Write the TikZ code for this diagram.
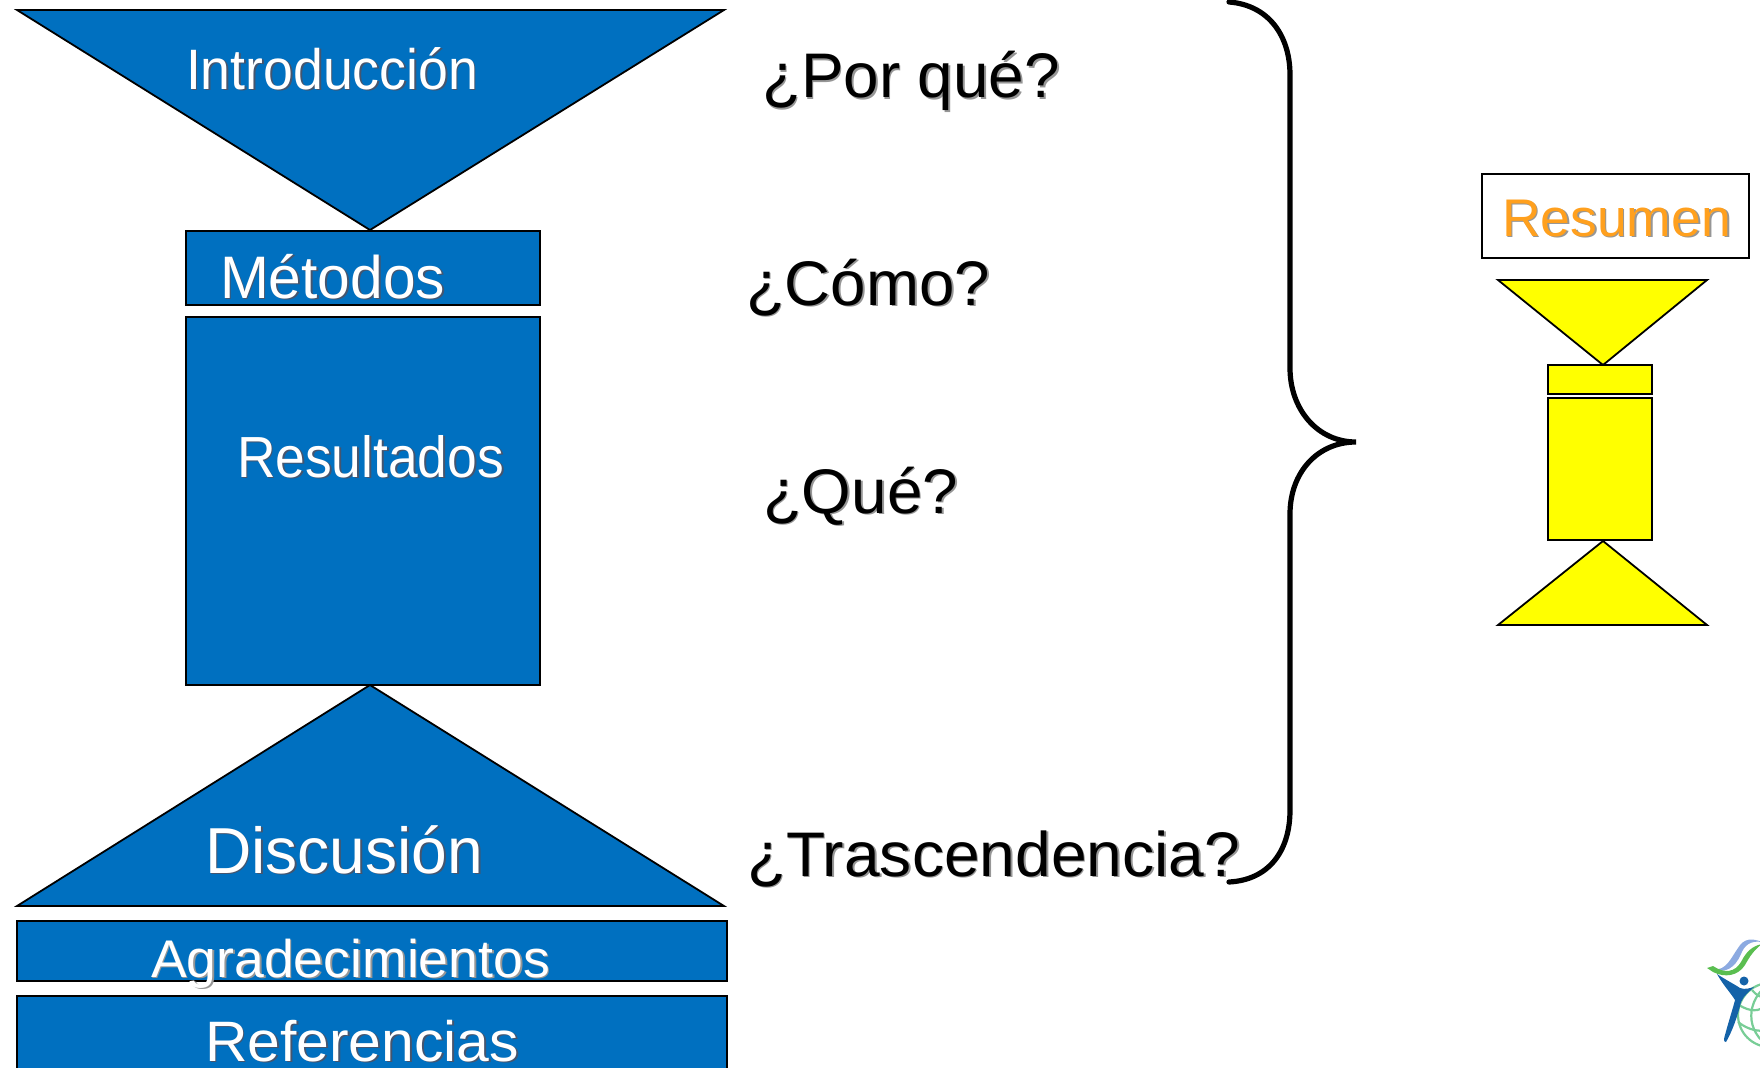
\documentclass[tikz,border=0pt]{standalone}
\usepackage{fontspec}
\usepackage{graphicx}
\setmainfont{Liberation Sans}
\definecolor{panelblue}{RGB}{0,112,192}
\definecolor{panelyellow}{RGB}{255,255,0}
\definecolor{resorange}{RGB}{255,160,30}
\definecolor{softshadow}{RGB}{150,150,150}
\definecolor{darkshadow}{RGB}{70,85,110}
\definecolor{logoblue}{RGB}{20,98,168}
\definecolor{logogreen}{RGB}{90,190,80}
\definecolor{logopale}{RGB}{140,170,225}
\definecolor{logoglobe}{RGB}{120,205,150}
\tikzset{
  bluepanel/.style={draw=black,fill=panelblue,line width=1.8pt,line join=miter},
  yellowpanel/.style={draw=black,fill=panelyellow,line width=1.8pt,line join=miter},
  labeltext/.style={anchor=base west,inner sep=0pt,outer sep=0pt},
  globeline/.style={draw=logoglobe,line width=2.2pt}
}
% name, x, baseline y, width, font size, colour, shadow colour, text
\newcommand{\shadowlabel}[8]{%
  \node[labeltext,text=#7] (#1-shadow) at (#2+1.8,#3+1.8) {\fontsize{#5}{#5}\selectfont\resizebox{#4pt}{\height}{#8}};
  \node[labeltext,text=#6] (#1) at (#2,#3) {\fontsize{#5}{#5}\selectfont\resizebox{#4pt}{\height}{#8}};
}
\begin{document}
\begin{tikzpicture}[x=1pt,y=-1pt]
\useasboundingbox (0,0) rectangle (1760,1067.5);
\clip (0,0) rectangle (1760,1067.5);
% blue column
\draw[bluepanel] (17,10) -- (724,10) -- (370,230) -- cycle;
\draw[bluepanel] (186,231) rectangle (540,305);
\draw[bluepanel] (186,317) rectangle (540,685);
\draw[bluepanel] (370,685) -- (724,906) -- (17,906) -- cycle;
\draw[bluepanel] (17,921) rectangle (727,981);
\draw[bluepanel] (17,996) rectangle (727,1085);
% labels in the column
\shadowlabel{intro}{186}{89}{292}{57}{white}{darkshadow}{Introducción}
\shadowlabel{metodos}{220}{298}{225}{60}{white}{darkshadow}{Métodos}
\shadowlabel{resultados}{237}{477}{267}{58}{white}{darkshadow}{Resultados}
\shadowlabel{discusion}{205}{873}{278}{65}{white}{darkshadow}{Discusión}
\shadowlabel{agrad}{151}{977}{399}{53}{white}{softshadow}{Agradecimientos}
\shadowlabel{refs}{205}{1061}{314}{57}{white}{darkshadow}{Referencias}
% questions
\shadowlabel{porque}{762}{97.5}{298}{63}{black}{softshadow}{¿Por qué?}
\shadowlabel{como}{746}{305}{244}{63}{black}{softshadow}{¿Cómo?}
\shadowlabel{que}{763}{513}{195}{63}{black}{softshadow}{¿Qué?}
\shadowlabel{trasc}{747}{876}{493}{63}{black}{softshadow}{¿Trascendencia?}
% brace
\draw[black,line width=5.2pt,line cap=round]
  (1229,2) .. controls (1268,5) and (1290,35) .. (1290,75)
  -- (1290,368) .. controls (1290,410) and (1318,442) .. (1356,442)
  .. controls (1318,442) and (1290,472) .. (1290,514)
  -- (1290,810) .. controls (1290,852) and (1268,880) .. (1229,882);
% Resumen box
\draw[black,fill=white,line width=1.8pt] (1482,174) rectangle (1749,258);
\shadowlabel{resumen}{1502}{236}{229}{53}{resorange}{softshadow}{Resumen}
% yellow figure
\draw[yellowpanel] (1498,280) -- (1707,280) -- (1603,365) -- cycle;
\draw[yellowpanel] (1548,365) rectangle (1652,394);
\draw[yellowpanel] (1548,398) rectangle (1652,540);
\draw[yellowpanel] (1603,541) -- (1707,625) -- (1498,625) -- cycle;
% logo
\draw[globeline] (1770,1015) circle (32);
\draw[globeline] (1770,983) .. controls (1745,1000) and (1745,1032) .. (1770,1047);
\draw[globeline] (1752,990) .. controls (1760,1000) and (1770,1000) .. (1765,985);
\draw[globeline] (1739,1005) .. controls (1750,1012) and (1760,1012) .. (1765,1005);
\draw[globeline] (1738,1022) .. controls (1748,1030) and (1760,1032) .. (1765,1030);
\fill[logopale] (1713,969) .. controls (1726,972) and (1732,956) .. (1738,948)
  .. controls (1744,938) and (1752,938) .. (1762,942)
  .. controls (1750,940) and (1744,946) .. (1741,954)
  .. controls (1735,968) and (1725,974) .. (1713,969) -- cycle;
\fill[logogreen] (1707,968) -- (1713,966) .. controls (1725,974) and (1735,972) .. (1741,962)
  .. controls (1746,952) and (1752,946) .. (1762,944)
  .. controls (1754,950) and (1750,956) .. (1745,965)
  .. controls (1738,976) and (1725,978) .. (1713,972) -- cycle;
\fill[logoblue] (1744,981) circle (4.5);
\fill[logoblue] (1717,974) .. controls (1726,980) and (1734,984) .. (1740,988)
  .. controls (1745,990) and (1750,988) .. (1754,987)
  .. controls (1750,991) and (1744,995) .. (1741,1002)
  .. controls (1738,1015) and (1732,1032) .. (1726,1042)
  .. controls (1723,1042) and (1724,1038) .. (1725,1035)
  .. controls (1729,1020) and (1733,1008) .. (1735,1000)
  .. controls (1730,992) and (1723,985) .. (1717,974) -- cycle;
\end{tikzpicture}
\end{document}
